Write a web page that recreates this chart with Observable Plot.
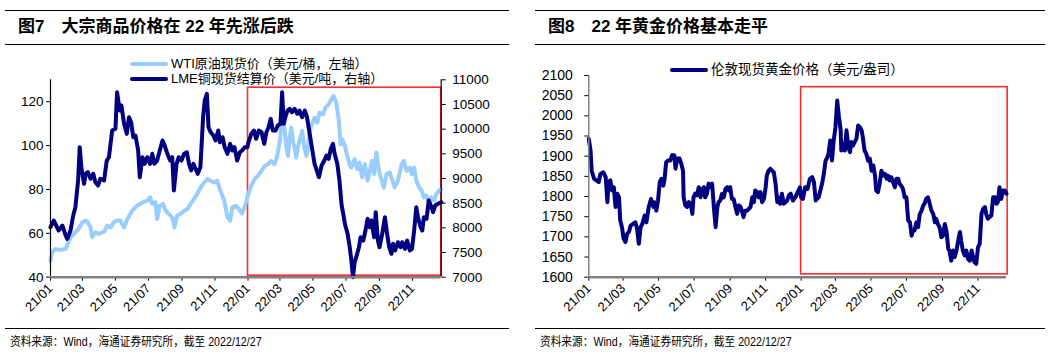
<!DOCTYPE html>
<html><head><meta charset="utf-8">
<script src="https://cdn.jsdelivr.net/npm/d3@7"></script>
<script src="https://cdn.jsdelivr.net/npm/@observablehq/plot@0.6"></script>
<style>
body{margin:0;background:#fff;}
#wrap{position:relative;width:1055px;height:360px;overflow:hidden;background:#fff;font-family:"Liberation Sans",Arial,"Noto Sans CJK SC",sans-serif;color:#000;}
.hline{position:absolute;height:0;border-top:1.5px solid #000;}
.title{position:absolute;top:17px;font-family:"Liberation Sans","Noto Sans CJK SC",sans-serif;font-weight:bold;font-size:17px;line-height:20px;white-space:nowrap;}
.title .num{margin-right:17px;}
.leg{position:absolute;display:flex;align-items:center;font-size:13px;line-height:15px;white-space:nowrap;}
.leg .sw{display:inline-block;width:38px;height:4px;border-radius:2px;margin-right:3px;}
.src{position:absolute;top:334px;font-size:12px;line-height:16px;white-space:nowrap;font-family:"Liberation Sans","Noto Sans CJK SC",sans-serif;transform:scaleX(0.89);transform-origin:0 50%;}
.chart{position:absolute;top:50px;}
</style>
</head><body>
<div id="wrap">
  <div class="hline" style="left:5px;width:504px;top:10px"></div>
  <div class="hline" style="left:5px;width:504px;top:44px"></div>
  <div class="title" style="left:18px"><span class="num">图7</span>大宗商品价格在 22 年先涨后跌</div>
  <div class="hline" style="left:535px;width:510px;top:10px"></div>
  <div class="hline" style="left:535px;width:510px;top:44px"></div>
  <div class="title" style="left:548px"><span class="num">图8</span>22 年黄金价格基本走平</div>

  <div id="left" class="chart" style="left:0px"></div>
  <div id="right" class="chart" style="left:530px"></div>

  <div class="leg" style="left:130px;top:56px"><span class="sw" style="background:#99CCFF"></span><span id="lg1"></span></div>
  <div class="leg" style="left:130px;top:71px"><span class="sw" style="background:#000080"></span><span id="lg2"></span></div>
  <div class="leg" style="left:670px;top:62px;font-size:13.5px"><span class="sw" style="background:#000080"></span><span id="lg3"></span></div>

  <div class="hline" style="left:5px;width:504px;top:328px"></div>
  <div class="hline" style="left:535px;width:510px;top:328px"></div>
  <div class="src" style="left:10px" id="src1"></div>
  <div class="src" style="left:540px" id="src2"></div>
</div>
<script>
// ---------- data (day offset from 2021-01-01, value) ----------
const START = "2021-01-01";
const legendLabels = ["WTI原油现货价（美元/桶，左轴）", "LME铜现货结算价（美元/吨，右轴）", "伦敦现货黄金价格（美元/盎司）"];
const sourceText = "资料来源：Wind，海通证券研究所，截至 2022/12/27";

const wti = [
[0,47.6],[3,51.4],[9,52.9],[18,52.4],[28,52.9],[34,56.7],[40,59],[46,60.5],[52,62],[59,65],[65,65.8],[69,65],[74,62.7],[77,58.2],[83,60.5],[89,59.7],[96,60.5],[100,61],[105,63.5],[111,62.7],[117,65],[123,65.8],[129,65.8],[136,62.7],[142,66.5],[151,70.3],[160,72.6],[170,74.1],[179,74.9],[184,76.4],[188,73.4],[194,74.1],[197,66.5],[202,72.6],[208,73.4],[213,70.3],[219,68.8],[225,67.3],[229,62.7],[234,68],[240,68.8],[247,70.3],[253,71.1],[259,73.4],[265,75.6],[271,77.9],[277,80.9],[284,83.2],[290,84.7],[296,84],[302,83.2],[308,84],[314,79.4],[321,74.9],[327,67.3],[332,65.8],[336,71.8],[342,72.6],[348,71.1],[354,69],[360,73],[365,77.5],
[371,81.7],[377,84.7],[383,86.2],[390,88.5],[396,90.8],[402,91.5],[408,93],[414,91.5],[419,95.3],[424,102.1],[427,109.7],[430,111.2],[433,106.7],[436,99],[439,95.3],[442,103.6],[445,108.2],[448,102.1],[451,99],[454,94.5],[457,99],[460,102.1],[465,106.7],[469,99],[473,95.3],[476,99.9],[479,106.7],[483,109.7],[488,112.7],[493,110.5],[497,115],[504,114.3],[508,117.3],[514,118.8],[519,121.1],[523,122.6],[528,119.5],[533,111.2],[536,100.6],[539,102.9],[544,99.9],[549,94.5],[553,91.5],[556,90],[562,93.8],[567,89.3],[571,92.3],[576,85.5],[581,91.5],[586,84],[590,88.5],[594,93],[598,87],[602,96.8],[607,88.5],[612,84],[616,80.9],[621,87],[627,87.7],[636,80.9],[642,84],[649,91.5],[653,93],[658,88.5],[664,90],[668,87],[672,90],[676,84],[681,80.9],[686,79.4],[690,76.4],[695,77.1],[699,74.1],[704,76.4],[709,75],[713,77.9],[718,79.4],[722,80.2]
];

const copper = [
[0,8013],[6,8149],[15,7946],[22,8047],[28,7845],[31,7778],[37,7946],[42,8250],[46,8418],[51,8959],[54,9634],[57,9229],[62,8892],[65,9095],[69,9127],[74,8994],[79,9095],[83,8925],[88,8858],[92,8994],[99,8959],[104,9364],[108,9431],[114,9972],[120,10007],[123,10748],[128,10377],[131,10479],[136,10108],[141,9905],[145,10242],[149,10140],[153,9836],[157,9871],[162,9567],[165,9026],[170,9431],[174,9297],[179,9431],[184,9297],[188,9500],[192,9297],[197,9364],[202,9567],[207,9770],[211,9668],[216,9500],[221,9364],[225,9431],[228,8757],[233,9297],[237,9431],[242,9364],[247,9500],[252,9532],[256,9297],[260,9162],[264,9297],[268,9196],[272,9095],[277,9229],[282,10242],[285,10580],[289,10716],[292,10039],[296,9938],[301,9871],[305,9770],[310,9972],[313,9735],[318,9836],[322,9634],[327,9500],[332,9703],[336,9567],[340,9634],[345,9364],[350,9532],[354,9567],[359,9634],[364,9634],
[365,9703],[371,9905],[376,9972],[380,9804],[385,9972],[390,9938],[395,9703],[399,9938],[403,10039],[407,10209],[411,9972],[416,9972],[420,10073],[425,10108],[428,10748],[431,10108],[434,10242],[438,10377],[442,10412],[446,10343],[451,10412],[456,10310],[460,10377],[465,10242],[470,10377],[474,10242],[479,9905],[483,9634],[488,9297],[493,9127],[496,9026],[501,9263],[506,9364],[510,9466],[514,9399],[518,9601],[522,9703],[525,9500],[530,9297],[534,8959],[538,8453],[541,8284],[544,8082],[549,7879],[553,7608],[556,7338],[559,7000],[562,7304],[565,7405],[570,7608],[573,7810],[578,7743],[582,7946],[586,8183],[590,8013],[593,8149],[598,7810],[601,8317],[605,7743],[608,7608],[613,7879],[618,8216],[622,7879],[626,7608],[630,7474],[633,7677],[637,7541],[642,7709],[647,7608],[650,7709],[655,7575],[659,7743],[664,7541],[668,7575],[672,7946],[676,8418],[679,8216],[684,8013],[687,7946],[690,8216],[695,8183],[699,8554],[703,8453],[707,8317],[711,8453],[716,8487],[722,8520]
];

const gold = [
[0,1943],[3,1914],[5,1864],[9,1844],[13,1840],[17,1836],[20,1856],[25,1860],[29,1848],[32,1786],[34,1836],[37,1840],[40,1815],[43,1823],[46,1774],[49,1807],[52,1798],[54,1741],[57,1724],[60,1695],[63,1687],[66,1708],[69,1712],[72,1728],[76,1732],[80,1736],[83,1720],[86,1683],[89,1724],[92,1732],[96,1753],[99,1736],[103,1774],[107,1794],[111,1774],[113,1786],[116,1765],[119,1790],[122,1836],[125,1844],[128,1827],[130,1840],[133,1885],[136,1889],[140,1889],[143,1902],[147,1902],[149,1869],[152,1894],[156,1894],[159,1881],[162,1864],[163,1798],[166,1778],[169,1774],[172,1786],[175,1782],[178,1757],[180,1798],[183,1807],[186,1803],[189,1823],[192,1798],[195,1819],[198,1823],[200,1798],[203,1807],[206,1832],[209,1823],[212,1832],[215,1774],[218,1724],[221,1774],[223,1786],[226,1790],[229,1807],[232,1798],[235,1819],[238,1823],[241,1815],[243,1823],[246,1794],[249,1794],[252,1774],[255,1757],[258,1778],[261,1774],[263,1765],[266,1749],[269,1765],[272,1765],[278,1774],[281,1798],[284,1786],[286,1815],[289,1811],[292,1798],[295,1811],[298,1786],[301,1794],[304,1823],[306,1852],[309,1864],[312,1869],[315,1864],[318,1860],[321,1832],[324,1786],[326,1798],[329,1782],[332,1807],[335,1782],[338,1786],[341,1790],[344,1803],[347,1807],
[351,1790],[355,1798],[359,1811],[363,1823],[365,1798],[368,1794],[372,1823],[376,1819],[380,1844],[384,1848],[387,1836],[390,1790],[392,1794],[395,1798],[398,1815],[401,1832],[404,1856],[407,1889],[410,1897],[412,1906],[415,1939],[418,1889],[421,1939],[424,1972],[427,2038],[430,1997],[433,1964],[434,1914],[437,1931],[440,1914],[443,1964],[446,1922],[449,1910],[451,1935],[454,1926],[457,1935],[460,1943],[463,1976],[466,1972],[469,1964],[471,1947],[474,1914],[477,1906],[480,1889],[483,1894],[486,1864],[489,1877],[492,1852],[494,1815],[497,1811],[500,1832],[503,1864],[506,1852],[509,1856],[512,1844],[514,1852],[517,1840],[520,1848],[523,1836],[526,1823],[529,1844],[532,1844],[534,1832],[537,1827],[540,1819],[543,1798],[546,1798],[549,1741],[552,1736],[555,1703],[557,1716],[560,1716],[563,1736],[566,1724],[569,1757],[572,1765],[575,1778],[577,1782],[580,1794],[583,1798],[586,1782],[589,1765],[592,1757],[595,1736],[597,1745],[600,1732],[603,1724],[606,1699],[609,1703],[612,1732],[615,1712],[618,1670],[620,1666],[623,1641],[626,1666],[629,1650],[632,1666],[635,1691],[638,1712],[640,1691],[643,1666],[646,1654],[649,1666],[652,1645],[655,1641],[658,1666],[660,1654],[663,1637],[666,1633],[669,1674],[672,1683],[675,1757],[678,1770],[681,1774],[683,1757],[686,1745],[689,1749],[692,1753],[695,1798],[698,1798],[701,1782],[703,1786],[706,1823],[709,1794],[712,1815],[715,1815],[718,1807]
];

const xTickDates = ["2021-01-01","2021-03-01","2021-05-01","2021-07-01","2021-09-01","2021-11-01","2022-01-01","2022-03-01","2022-05-01","2022-07-01","2022-09-01","2022-11-01"];
const xTickLabels = ["21/01","21/03","21/05","21/07","21/09","21/11","22/01","22/03","22/05","22/07","22/09","22/11"];
const wtiTicks = [40,60,80,100,120];
const copperTicks = [7000,7500,8000,8500,9000,9500,10000,10500,11000];
const goldTicks = [1600,1650,1700,1750,1800,1850,1900,1950,2000,2050,2100];
const leftEndDay = 722, goldEndDay = 718;
const leftBox = {fromDay: 365, toDay: 722, low: 7030, high: 10840};   // copper units
const goldBox = {fromDay: 365, toDay: 720, low: 1607, high: 2071};

// ---------- helpers ----------
const start = new Date(START + "T00:00:00Z");
const day = d => d3.utcDay.offset(start, d);
const rows = arr => arr.map(([d, v]) => ({date: day(d), value: v}));
const tickDates = xTickDates.map(s => new Date(s + "T00:00:00Z"));
const tickLabel = d => xTickLabels[tickDates.findIndex(t => +t === +d)];
// copper (right axis) mapped into the left axis units
const L0 = 40, L1 = 130, R0 = 7000, R1 = 11000;
const toLeft = c => L0 + (c - R0) * (L1 - L0) / (R1 - R0);
const fromLeft = v => Math.round(R0 + (v - L0) * (R1 - R0) / (L1 - L0));

document.getElementById("lg1").textContent = legendLabels[0];
document.getElementById("lg2").textContent = legendLabels[1];
document.getElementById("lg3").textContent = legendLabels[2];
document.getElementById("src1").textContent = sourceText;
document.getElementById("src2").textContent = sourceText;

const baseStyle = {fontFamily: '"Liberation Sans", Arial, sans-serif', fontSize: "13.5px", color: "#000", background: "transparent", overflow: "visible"};

const leftChart = Plot.plot({
  width: 515, height: 265,
  marginLeft: 50, marginRight: 74.3, marginTop: 29.3, marginBottom: 38.3,
  style: baseStyle,
  x: {type: "utc", domain: [start, day(leftEndDay)]},
  y: {domain: [L0, L1]},
  marks: [
    Plot.rect([leftBox], {x1: d => day(d.fromDay), x2: d => day(d.toDay), y1: d => toLeft(d.low), y2: d => toLeft(d.high), fill: "none", stroke: "#ff2a2a", strokeWidth: 1.6}),
    Plot.line(rows(wti), {x: "date", y: "value", stroke: "#99CCFF", strokeWidth: 4, strokeLinejoin: "round"}),
    Plot.line(rows(copper), {x: "date", y: d => toLeft(d.value), stroke: "#000080", strokeWidth: 4, strokeLinejoin: "round"}),
    Plot.ruleX([start], {stroke: "#000", strokeWidth: 1.2}),
    Plot.ruleX([day(leftEndDay)], {stroke: "#000", strokeWidth: 1.2}),
    Plot.axisY(wtiTicks, {anchor: "left", tickSize: 4, tickPadding: 3, tickFormat: d => String(d), label: null}),
    Plot.axisY(copperTicks.map(toLeft), {anchor: "right", tickSize: 4, tickPadding: 7, tickFormat: v => String(fromLeft(v)), label: null}),
    Plot.axisX(tickDates, {anchor: "bottom", tickSize: 4, tickPadding: 5, tickRotate: -45, tickFormat: tickLabel, fontSize: 13, label: null}),
    Plot.ruleY([L0], {stroke: "#808080", strokeWidth: 2.5})
  ]
});
document.getElementById("left").append(leftChart);

const goldChart = Plot.plot({
  width: 525, height: 265,
  marginLeft: 58.3, marginRight: 49, marginTop: 25, marginBottom: 38.3,
  style: {...baseStyle, fontSize: "14px"},
  x: {type: "utc", domain: [start, day(goldEndDay)]},
  y: {domain: [1600, 2100]},
  marks: [
    Plot.rect([goldBox], {x1: d => day(d.fromDay), x2: d => day(d.toDay), y1: "low", y2: "high", fill: "none", stroke: "#ff2a2a", strokeWidth: 1.6}),
    Plot.line(rows(gold), {x: "date", y: "value", stroke: "#000080", strokeWidth: 4, strokeLinejoin: "round"}),
    Plot.ruleX([start], {stroke: "#808080", strokeWidth: 1.5}),
    Plot.axisY(goldTicks, {anchor: "left", tickSize: 4, tickPadding: 12, tickFormat: d => String(d), label: null}),
    Plot.axisX(tickDates, {anchor: "bottom", tickSize: 4, tickPadding: 5, tickRotate: -45, tickFormat: tickLabel, fontSize: 13, label: null}),
    Plot.ruleY([1600], {stroke: "#808080", strokeWidth: 2.5})
  ]
});
document.getElementById("right").append(goldChart);
</script>
</body></html>
